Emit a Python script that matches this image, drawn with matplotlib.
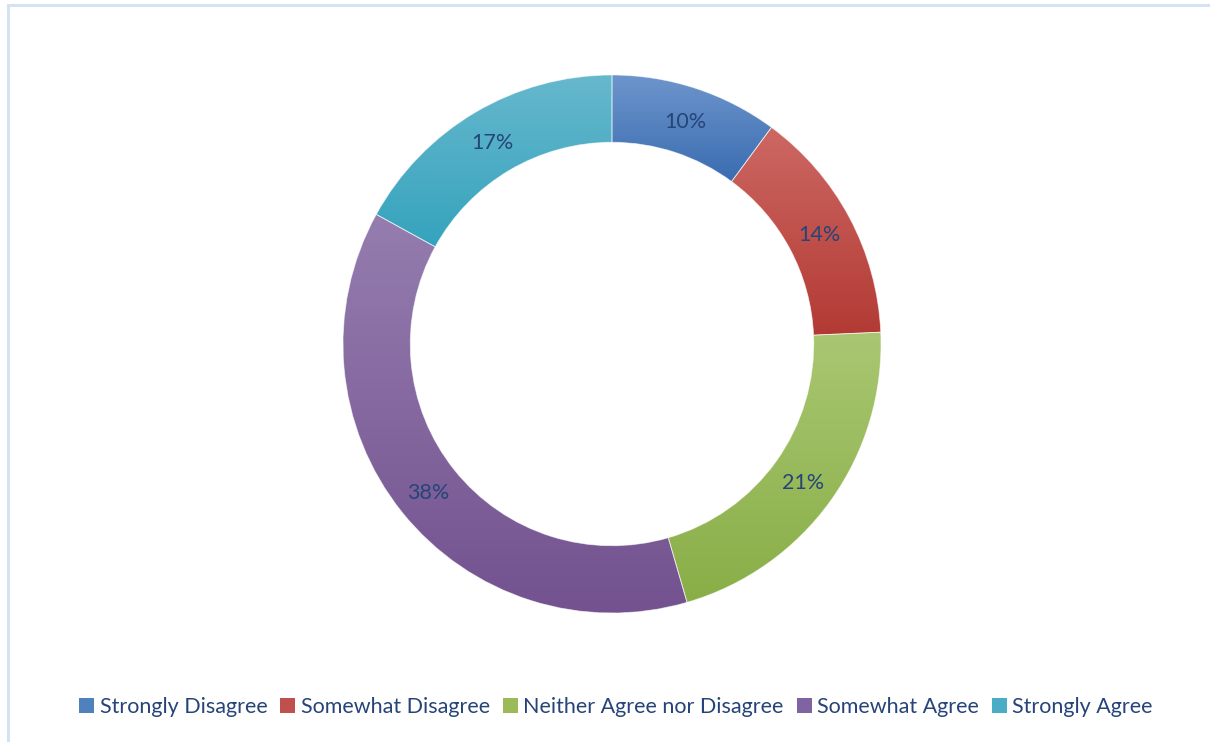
import numpy as np
import matplotlib
matplotlib.use("Agg")
import matplotlib.pyplot as plt
from matplotlib.colors import LinearSegmentedColormap
from matplotlib.patches import Rectangle

# survey answers, clockwise from 12 o'clock
labels = ["Strongly Disagree", "Somewhat Disagree", "Neither Agree nor Disagree",
          "Somewhat Agree", "Strongly Agree"]
shares = [10.1, 14.2, 21.2, 37.5, 17.0]
pct_text = ["10%", "14%", "21%", "38%", "17%"]

# (top, bottom) shade of each slice's vertical gradient
shades = [("#6d95cc", "#3a6cb0"),
          ("#cd6863", "#b33a34"),
          ("#a9c772", "#89ae47"),
          ("#957daf", "#73528f"),
          ("#66b8cd", "#35a3bd")]
mid_colors = ["#4f81bd", "#c0504d", "#9bbb59", "#8064a2", "#4bacc6"]
text_color = "#264478"

plt.rcParams["font.family"] = ["Lato", "DejaVu Sans"]

W, H = 1210, 742
fig = plt.figure(figsize=(W / 100, H / 100), dpi=100)
fig.patch.set_facecolor("white")

# light frame of the chart area (runs off right and bottom edges)
fig.patches.append(Rectangle((7.5 / W, -0.05), 1.1, 1 - 4.5 / H + 0.05,
                             transform=fig.transFigure, fill=False,
                             edgecolor="#d6e2f1", linewidth=2.2))

cx, cy, r = 612, 742 - 344, 269
ax = fig.add_axes([(cx - r) / W, (cy - r) / H, 2 * r / W, 2 * r / H])
ax.set_xlim(-1, 1)
ax.set_ylim(-1, 1)
ax.axis("off")

wedges, _ = ax.pie(shares, radius=1, startangle=90, counterclock=False,
                   colors=mid_colors,
                   wedgeprops=dict(width=0.25, edgecolor="none"))

# vertical gradient fill for each wedge
grad = np.linspace(0, 1, 256).reshape(-1, 1)
for w, (top, bot) in zip(wedges, shades):
    ext = w.get_path().get_extents()
    cmap = LinearSegmentedColormap.from_list("g", [top, bot])
    im = ax.imshow(grad, cmap=cmap, aspect="auto", origin="upper",
                   extent=[ext.x0, ext.x1, ext.y0, ext.y1], zorder=2)
    im.set_clip_path(w)
    w.set_facecolor("none")
    w.set_edgecolor((1, 1, 1, 0.6))
    w.set_linewidth(0.6)
    w.set_zorder(3)
ax.set_xlim(-1, 1)
ax.set_ylim(-1, 1)

# percentage labels at the middle of the ring
total = sum(shares)
ang = 90.0
for w, s, t in zip(wedges, shares, pct_text):
    sweep = s / total * 360
    mid = np.deg2rad(ang - sweep / 2)
    ax.text(0.875 * np.cos(mid), 0.875 * np.sin(mid), t, ha="center",
            va="center_baseline", fontsize=15.5, color=text_color, zorder=4)
    ang -= sweep

handles = [Rectangle((0, 0), 1, 1, facecolor=c, edgecolor="none") for c in mid_colors]
leg = fig.legend(handles, labels, loc="center", bbox_to_anchor=(616 / W, 1 - 707 / H),
                 ncol=5, frameon=False, fontsize=15.5, handlelength=0.7, handleheight=0.7,
                 handletextpad=0.25, columnspacing=0.6, labelcolor=text_color)

fig.savefig("out.png", dpi=100, facecolor="white")
